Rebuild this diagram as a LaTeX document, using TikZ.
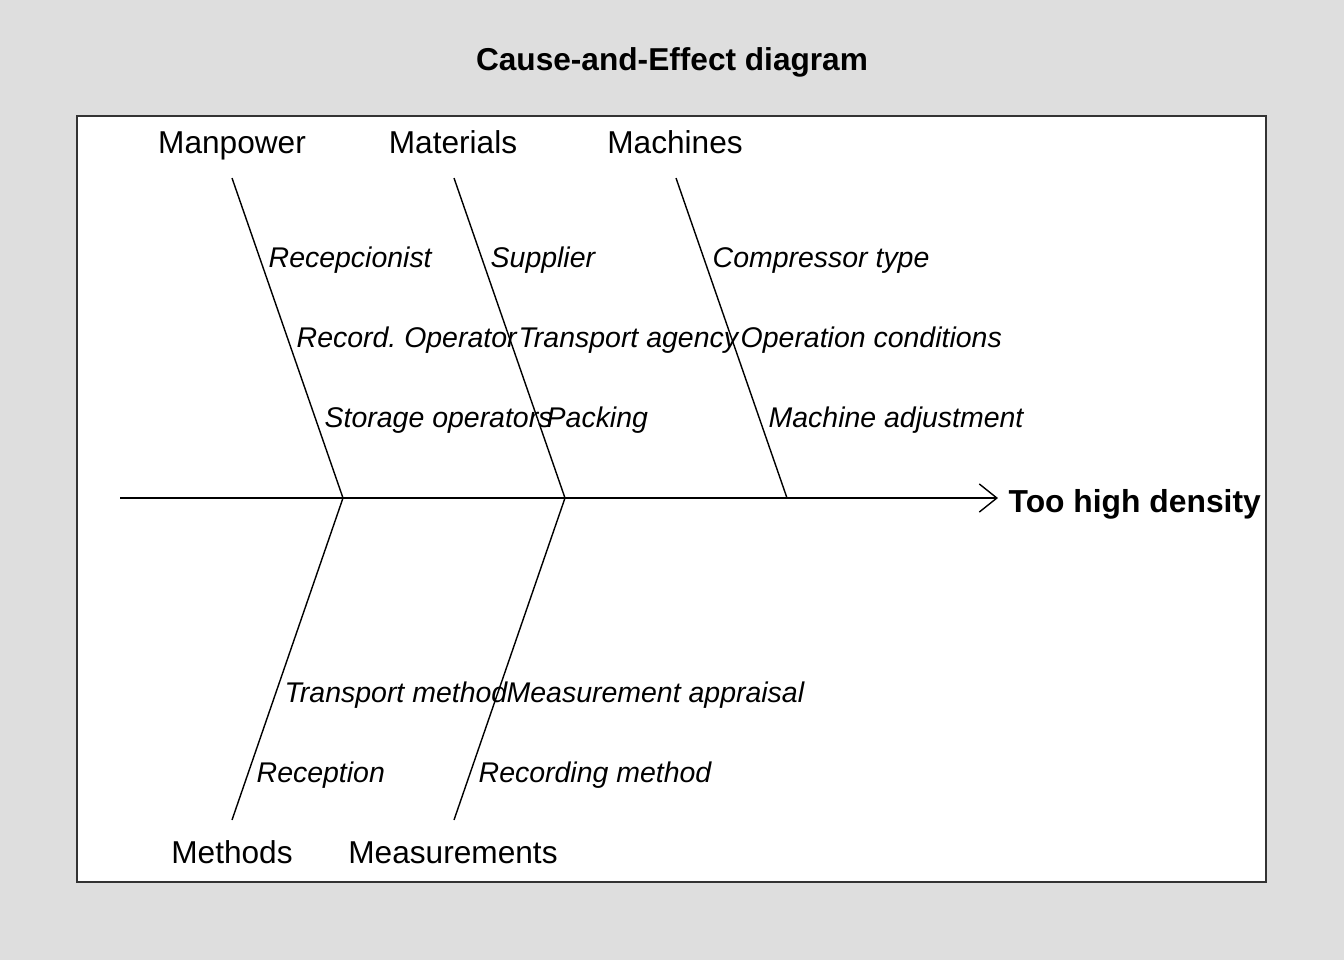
\documentclass[tikz,border=0pt]{standalone}
\usepackage{fontspec}
\setmainfont{Liberation Sans}
\usetikzlibrary{arrows.meta}
\definecolor{pagebg}{HTML}{DEDEDE}
\definecolor{frameline}{HTML}{333333}
\frenchspacing

\begin{document}
\begin{tikzpicture}[
        bone/.style={line width=0.4pt},
        category/.style={anchor=base, inner sep=0pt, font=\fontsize{9}{11}\selectfont},
        cause/.style={anchor=base west, inner sep=0pt, font=\fontsize{8.1}{10}\selectfont\itshape},
    ]
                % page and panel
                \fill[pagebg] (0,0) rectangle (13.44,9.6);
                \draw[frameline, fill=white, line width=0.3pt] (0.77,0.78) rectangle (12.66,8.44);
                \node[anchor=base, inner sep=0pt, font=\fontsize{9}{11}\selectfont\bfseries] (title) at (6.72,8.90) {Cause-and-Effect diagram};
                % spine
                \coordinate (tail) at (1.20,4.62);
                \coordinate (head) at (9.98,4.62);
                \draw[bone, -{Straight Barb[length=5pt, width=8pt]}] (tail) -- (head);
                \node[anchor=base west, inner sep=0pt, font=\fontsize{9.05}{11}\selectfont\bfseries] (effect) at (10.08,4.48) {Too high density};
                % bones
                \coordinate (manTop) at (2.32,7.82);
                \coordinate (manJoin) at (3.43,4.62);
                \coordinate (matTop) at (4.54,7.82);
                \coordinate (matJoin) at (5.65,4.62);
                \coordinate (macTop) at (6.76,7.82);
                \coordinate (macJoin) at (7.87,4.62);
                \coordinate (metBot) at (2.32,1.40);
                \coordinate (meaBot) at (4.54,1.40);
                \draw[bone] (manTop) -- (manJoin);
                \draw[bone] (matTop) -- (matJoin);
                \draw[bone] (macTop) -- (macJoin);
                \draw[bone] (manJoin) -- (metBot);
                \draw[bone] (matJoin) -- (meaBot);
                % categories
                \node[category] (manpower) at (2.32,8.07) {Manpower};
                \node[category] (materials) at (4.53,8.07) {Materials};
                \node[category] (machines) at (6.75,8.07) {Machines};
                \node[category] (methods) at (2.32,0.97) {Methods};
                \node[category] (measurements) at (4.53,0.97) {Measurements};
                % causes
                \node[cause] (recep) at (2.68,6.93) {Recepcionist};
                \node[cause] (recop) at (2.96,6.13) {Record. Operator};
                \node[cause] (storop) at (3.24,5.33) {Storage operators};
                \node[cause] (supp) at (4.90,6.93) {Supplier};
                \node[cause] (tragency) at (5.18,6.13) {Transport agency};
                \node[cause] (pack) at (5.46,5.33) {Packing};
                \node[cause] (comp) at (7.12,6.93) {Compressor type};
                \node[cause] (opcond) at (7.40,6.13) {Operation conditions};
                \node[cause] (madj) at (7.68,5.33) {Machine adjustment};
                \node[cause] (trmeth) at (2.84,2.58) {Transport method};
                \node[cause] (reception) at (2.56,1.78) {Reception};
                \node[cause] (meapp) at (5.06,2.58) {Measurement appraisal};
                \node[cause] (recmeth) at (4.78,1.78) {Recording method};
            \end{tikzpicture}
\end{document}
